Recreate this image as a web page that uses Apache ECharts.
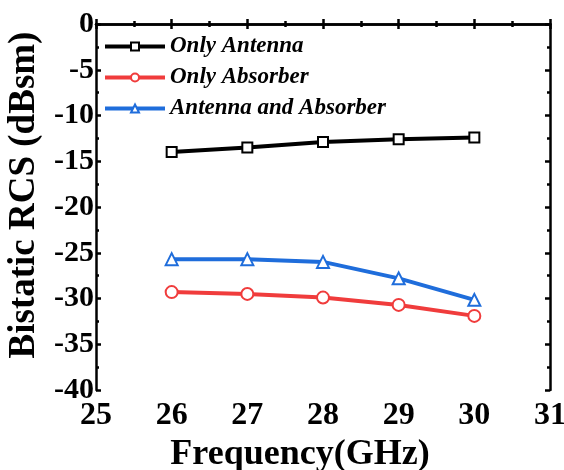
<!DOCTYPE html>
<html>
<head>
<meta charset="utf-8">
<script src="https://cdn.jsdelivr.net/npm/echarts@6/dist/echarts.min.js"></script>
<style>
  html, body { margin: 0; padding: 0; background: #fff; }
  #chart { width: 564px; height: 470px; }
</style>
</head>
<body>
<div id="chart"></div>
<script>
// Measured bistatic RCS versus frequency
const frequencies = [26, 27, 28, 29, 30];
const onlyAntenna = [-14.0, -13.5, -12.9, -12.6, -12.4];
const onlyAbsorber = [-29.3, -29.5, -29.9, -30.7, -31.9];
const antennaAndAbsorber = [-25.7, -25.7, -26.0, -27.8, -30.15];
const seriesNames = ['Only Antenna', 'Only Absorber', 'Antenna and Absorber'];
const seriesColors = ['#000000', '#f03c3c', '#1f6ddb'];
const seriesSymbols = ['rect', 'circle', 'triangle'];

const serif = '"Liberation Serif", "Times New Roman", serif';
const valuesList = [onlyAntenna, onlyAbsorber, antennaAndAbsorber];

const chart = echarts.init(document.getElementById('chart'), null, { renderer: 'canvas' });

const frameLine = { show: true, lineStyle: { color: '#000', width: 2.5 } };
const tickIn = { show: true, inside: true, length: 5, lineStyle: { color: '#000', width: 2.5 } };
const minorIn = { show: true, splitNumber: 2, length: 3, lineStyle: { color: '#000', width: 2.5 } };

chart.setOption({
  animation: false,
  grid: { left: 96, right: 14, top: 24, bottom: 80, outerBoundsMode: 'none', containLabel: false },
  legend: {
    orient: 'vertical',
    left: 103,
    top: 35,
    padding: 0,
    itemWidth: 60,
    itemHeight: 10,
    itemGap: 8,
    data: seriesNames,
    lineStyle: { width: 4 },
    textStyle: { fontFamily: serif, fontStyle: 'italic', fontWeight: 'bold', fontSize: 23, color: '#000', padding: [0, 0, 0, 0] }
  },
  xAxis: [
    {
      type: 'value', min: 25, max: 31, interval: 1, position: 'bottom',
      name: 'Frequency(GHz)', nameLocation: 'middle', nameGap: 46,
      nameTextStyle: { fontFamily: serif, fontWeight: 'bold', fontSize: 36, color: '#000', padding: [0, 46, 0, 0] },
      axisLine: frameLine, axisTick: tickIn, minorTick: minorIn, splitLine: { show: false },
      axisLabel: { fontFamily: serif, fontWeight: 'bold', fontSize: 32, color: '#000', margin: 10 }
    },
    {
      type: 'value', min: 25, max: 31, interval: 1, position: 'top',
      axisLine: frameLine, axisTick: tickIn, minorTick: minorIn, splitLine: { show: false },
      axisLabel: { show: false }
    }
  ],
  yAxis: [
    {
      type: 'value', min: -40, max: 0, interval: 5, position: 'left',
      name: 'Bistatic RCS (dBsm)', nameLocation: 'middle', nameGap: 46,
      nameTextStyle: { fontFamily: serif, fontWeight: 'bold', fontSize: 37, color: '#000', padding: [0, 0, 0, 24] },
      axisLine: frameLine, axisTick: tickIn, minorTick: minorIn, splitLine: { show: false },
      axisLabel: { fontFamily: serif, fontWeight: 'bold', fontSize: 30, color: '#000', margin: 2 }
    },
    {
      type: 'value', min: -40, max: 0, interval: 5, position: 'right',
      axisLine: frameLine, axisTick: tickIn, minorTick: minorIn, splitLine: { show: false },
      axisLabel: { show: false }
    }
  ],
  series: seriesNames.map((name, i) => ({
    name: name,
    type: 'line',
    xAxisIndex: 0,
    yAxisIndex: 0,
    data: frequencies.map((f, j) => [f, valuesList[i][j]]),
    symbol: seriesSymbols[i],
    symbolSize: i === 0 ? 10 : 12,
    showAllSymbol: true,
    lineStyle: { color: seriesColors[i], width: 4 },
    itemStyle: { color: '#fff', borderColor: seriesColors[i], borderWidth: 2 },
    color: seriesColors[i],
    z: 3 - i
  }))
});
</script>
</body>
</html>
